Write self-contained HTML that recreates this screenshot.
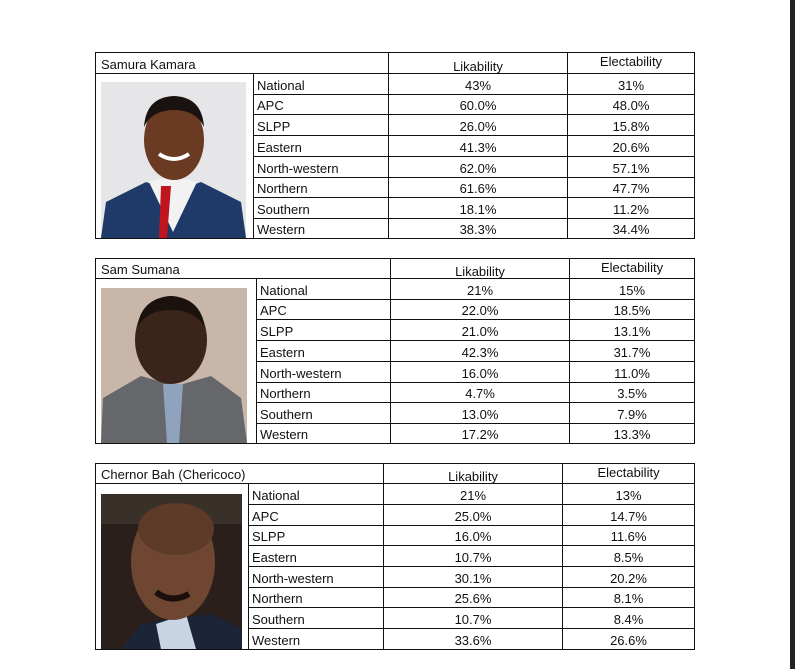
<!DOCTYPE html>
<html><head><meta charset="utf-8">
<style>
html,body{margin:0;padding:0;background:#fff;width:795px;height:669px;overflow:hidden;position:relative;font-family:"Liberation Sans",sans-serif;}
table{position:absolute;border-collapse:collapse;table-layout:fixed;font-size:13px;color:#111;}
td{border:1px solid #111;padding:0;white-space:nowrap;overflow:hidden;line-height:1;vertical-align:bottom;padding-bottom:2px;}
td.n{padding-left:5px;}
td.l{padding-left:3px;}
td.v{text-align:center;}
td.h{text-align:center;vertical-align:bottom;padding-bottom:0px;}
.ph{position:absolute;}
.bar{position:absolute;left:790px;top:0;width:5px;height:669px;background:#232323;}
</style></head><body>

<table style="left:95px;top:52px;width:599px;">
<colgroup><col style="width:158px"><col style="width:135px"><col style="width:179px"><col style="width:127px"></colgroup>
<tr style="height:21px"><td class="n" colspan="2">Samura Kamara</td><td class="h">Likability</td><td class="h" style="vertical-align:top;padding-top:2px">Electability</td></tr>
<tr style="height:21px"><td rowspan="8" style="border-right:1px solid #111"></td><td class="l">National</td><td class="v">43%</td><td class="v">31%</td></tr>
<tr style="height:20px"><td class="l">APC</td><td class="v">60.0%</td><td class="v">48.0%</td></tr>
<tr style="height:21px"><td class="l">SLPP</td><td class="v">26.0%</td><td class="v">15.8%</td></tr>
<tr style="height:21px"><td class="l">Eastern</td><td class="v">41.3%</td><td class="v">20.6%</td></tr>
<tr style="height:21px"><td class="l">North-western</td><td class="v">62.0%</td><td class="v">57.1%</td></tr>
<tr style="height:20px"><td class="l">Northern</td><td class="v">61.6%</td><td class="v">47.7%</td></tr>
<tr style="height:21px"><td class="l">Southern</td><td class="v">18.1%</td><td class="v">11.2%</td></tr>
<tr style="height:20px"><td class="l">Western</td><td class="v">38.3%</td><td class="v">34.4%</td></tr>
</table>

<table style="left:95px;top:258px;width:599px;">
<colgroup><col style="width:161px"><col style="width:134px"><col style="width:179px"><col style="width:125px"></colgroup>
<tr style="height:20px"><td class="n" colspan="2">Sam Sumana</td><td class="h">Likability</td><td class="h" style="vertical-align:top;padding-top:2px">Electability</td></tr>
<tr style="height:21px"><td rowspan="8"></td><td class="l">National</td><td class="v">21%</td><td class="v">15%</td></tr>
<tr style="height:20px"><td class="l">APC</td><td class="v">22.0%</td><td class="v">18.5%</td></tr>
<tr style="height:21px"><td class="l">SLPP</td><td class="v">21.0%</td><td class="v">13.1%</td></tr>
<tr style="height:21px"><td class="l">Eastern</td><td class="v">42.3%</td><td class="v">31.7%</td></tr>
<tr style="height:21px"><td class="l">North-western</td><td class="v">16.0%</td><td class="v">11.0%</td></tr>
<tr style="height:20px"><td class="l">Northern</td><td class="v">4.7%</td><td class="v">3.5%</td></tr>
<tr style="height:21px"><td class="l">Southern</td><td class="v">13.0%</td><td class="v">7.9%</td></tr>
<tr style="height:20px"><td class="l">Western</td><td class="v">17.2%</td><td class="v">13.3%</td></tr>
</table>

<table style="left:95px;top:463px;width:599px;">
<colgroup><col style="width:153px"><col style="width:135px"><col style="width:179px"><col style="width:132px"></colgroup>
<tr style="height:20px"><td class="n" colspan="2">Chernor Bah (Chericoco)</td><td class="h">Likability</td><td class="h" style="vertical-align:top;padding-top:2px">Electability</td></tr>
<tr style="height:21px"><td rowspan="8"></td><td class="l">National</td><td class="v">21%</td><td class="v">13%</td></tr>
<tr style="height:21px"><td class="l">APC</td><td class="v">25.0%</td><td class="v">14.7%</td></tr>
<tr style="height:20px"><td class="l">SLPP</td><td class="v">16.0%</td><td class="v">11.6%</td></tr>
<tr style="height:21px"><td class="l">Eastern</td><td class="v">10.7%</td><td class="v">8.5%</td></tr>
<tr style="height:21px"><td class="l">North-western</td><td class="v">30.1%</td><td class="v">20.2%</td></tr>
<tr style="height:20px"><td class="l">Northern</td><td class="v">25.6%</td><td class="v">8.1%</td></tr>
<tr style="height:21px"><td class="l">Southern</td><td class="v">10.7%</td><td class="v">8.4%</td></tr>
<tr style="height:21px"><td class="l">Western</td><td class="v">33.6%</td><td class="v">26.6%</td></tr>
</table>

<svg class="ph" style="left:101px;top:82px" width="145" height="156" viewBox="0 0 145 156">
<rect width="145" height="156" fill="#e6e6e8"/>
<path d="M0 156 L5 120 L45 100 L72 110 L100 100 L140 120 L145 156Z" fill="#1f3a68"/>
<path d="M48 100 L72 150 L96 100 L80 96 L64 96Z" fill="#f2f2f2"/>
<path d="M60 104 L70 104 L66 156 L58 156Z" fill="#c0141e"/>
<ellipse cx="73" cy="58" rx="30" ry="40" fill="#6a3a22"/>
<path d="M43 45 Q45 15 73 14 Q101 15 103 45 Q95 28 73 28 Q51 28 43 45Z" fill="#1a1210"/>
<path d="M58 72 Q73 82 88 72" stroke="#fff" stroke-width="4" fill="none"/>
</svg>

<svg class="ph" style="left:101px;top:288px" width="146" height="155" viewBox="0 0 146 155">
<rect width="146" height="155" fill="#c8b7a9"/>
<path d="M0 155 L2 110 L40 88 L75 98 L110 88 L140 110 L146 155Z" fill="#66676b"/>
<path d="M62 96 L82 96 L78 155 L66 155Z" fill="#8fa3bf"/>
<ellipse cx="70" cy="52" rx="36" ry="44" fill="#3b2419"/>
<path d="M36 40 Q40 10 70 8 Q100 10 104 40 Q95 22 70 22 Q45 22 36 40Z" fill="#1c120d"/>
</svg>

<svg class="ph" style="left:101px;top:494px" width="141" height="155" viewBox="0 0 141 155">
<rect width="141" height="155" fill="#2a1f1a"/>
<rect x="0" y="0" width="141" height="30" fill="#3a302a"/>
<path d="M20 155 L40 130 L70 125 L110 120 L141 135 L141 155Z" fill="#1c2438"/>
<path d="M55 130 L85 120 L95 155 L60 155Z" fill="#c9d4e4"/>
<ellipse cx="72" cy="68" rx="42" ry="58" fill="#6e4632"/>
<ellipse cx="75" cy="35" rx="38" ry="26" fill="#5e3a29"/>
<path d="M55 98 Q70 110 88 100" stroke="#1a0f0a" stroke-width="6" fill="none"/>
</svg>

<div class="bar"></div>
</body></html>
